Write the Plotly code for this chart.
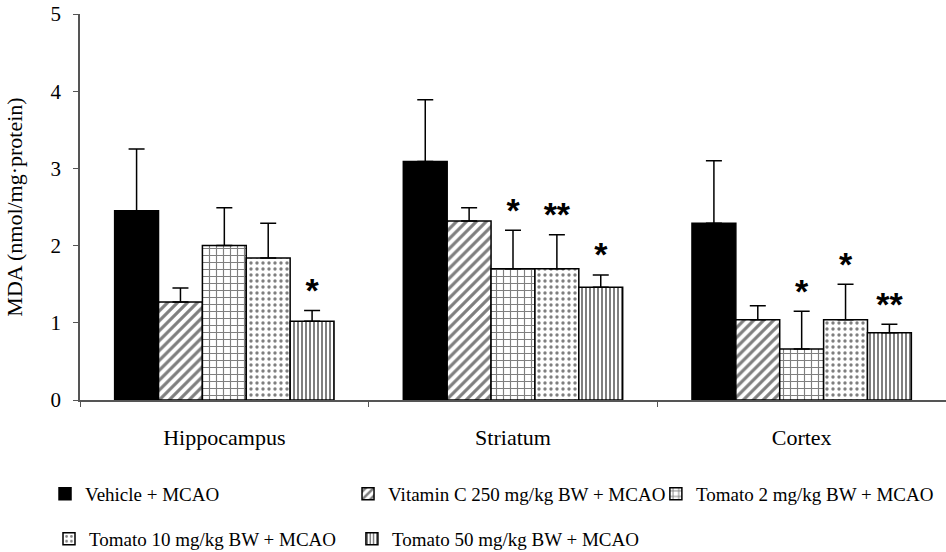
import plotly.graph_objects as go

# regions and treatment groups
regions = ["Hippocampus", "Striatum", "Cortex"]
groups = ["Vehicle + MCAO", "Vitamin C 250 mg/kg BW + MCAO", "Tomato 2 mg/kg BW + MCAO",
          "Tomato 10 mg/kg BW + MCAO", "Tomato 50 mg/kg BW + MCAO"]

# MDA mean values (nmol/mg protein) per group, ordered as regions
vehicle = [2.45, 3.09, 2.29]
vitc = [1.27, 2.32, 1.04]
tomato2 = [2.00, 1.70, 0.66]
tomato10 = [1.84, 1.70, 1.04]
tomato50 = [1.02, 1.46, 0.87]

# SD (upper error bar only)
vehicle_err = [0.80, 0.80, 0.81]
vitc_err = [0.18, 0.17, 0.18]
tomato2_err = [0.49, 0.50, 0.49]
tomato10_err = [0.45, 0.44, 0.46]
tomato50_err = [0.14, 0.16, 0.11]

# significance marks
vehicle_sig = ["", "", ""]
vitc_sig = ["", "", ""]
tomato2_sig = ["", "*", "*"]
tomato10_sig = ["", "**", "*"]
tomato50_sig = ["*", "*", "**"]

values = [vehicle, vitc, tomato2, tomato10, tomato50]
errors = [vehicle_err, vitc_err, tomato2_err, tomato10_err, tomato50_err]
sigs = [vehicle_sig, vitc_sig, tomato2_sig, tomato10_sig, tomato50_sig]

patterns = [
    dict(shape="", fgcolor="black", bgcolor="black"),
    dict(shape="/", size=7, solidity=0.45, fgcolor="black", bgcolor="white"),
    dict(shape="+", size=7, solidity=0.3, fgcolor="black", bgcolor="white"),
    dict(shape=".", size=6, solidity=0.25, fgcolor="black", bgcolor="white"),
    dict(shape="|", size=4, solidity=0.5, fgcolor="black", bgcolor="white"),
]

# legend placement (paper coords, anchor)
leg_pos = [(-0.0404, -0.243, "left"), (0.3095, -0.243, "left"), (0.665, -0.243, "left"),
           (-0.0358, -0.36, "left"), (0.314, -0.36, "left")]
leg_names = ["legend", "legend2", "legend3", "legend4", "legend5"]

serif = "Liberation Serif"
fig = go.Figure()

for i in range(5):
    fig.add_trace(go.Bar(
        x=regions, y=values[i], name=groups[i], offsetgroup=str(i),
        marker=dict(color="white" if i else "black", line=dict(color="black", width=1.5),
                    pattern=patterns[i]),
        error_y=dict(type="data", array=errors[i], arrayminus=[0, 0, 0], symmetric=False,
                     color="black", thickness=1.5, width=8),
        legend=leg_names[i],
    ))

# asterisks above the error bars
for i in range(5):
    fig.add_trace(go.Scatter(
        x=regions, y=[v + e for v, e in zip(values[i], errors[i])], text=sigs[i],
        mode="text", textposition="top center", offsetgroup=str(i), showlegend=False,
        textfont=dict(family="Liberation Sans", size=34, color="black", weight="bold"),
        hoverinfo="skip",
    ))

layout_legends = {}
for name, (lx, ly, anchor) in zip(leg_names, leg_pos):
    layout_legends[name] = dict(x=lx, y=ly, xanchor=anchor, yanchor="middle",
                                font=dict(family=serif, size=19, color="black"),
                                bgcolor="rgba(0,0,0,0)", itemwidth=30)

# figure a bit taller than the window so the bottom legend row does not push the margins
fig.update_layout(
    width=946, height=560,
    margin=dict(l=80, r=0, t=14, b=160),
    plot_bgcolor="white", paper_bgcolor="white",
    barmode="group", bargap=0.24, bargroupgap=0, scattermode="group",
    font=dict(family=serif, color="black"),
    **layout_legends,
)

fig.update_xaxes(
    type="category", tickson="boundaries", ticks="outside", ticklen=5, tickcolor="#555",
    showline=True, linecolor="#555", linewidth=1.5, showgrid=False, automargin=False,
    tickfont=dict(family=serif, size=22, color="black"), ticklabelstandoff=17,
)
fig.update_yaxes(
    range=[0, 5], dtick=1, ticks="outside", ticklen=5, tickcolor="#555",
    showline=True, linecolor="#555", linewidth=1.5, showgrid=False, zeroline=False,
    automargin=False, ticklabeloverflow="allow",
    tickfont=dict(family=serif, size=21, color="black"), ticklabelstandoff=8,
    title=dict(text="MDA (nmol/mg·protein)", font=dict(family=serif, size=22, color="black"), standoff=22),
)

# drop the default 8px page margin so the figure sits at the window corner
fig.write_html("out.html", config={"displayModeBar": False},
               post_script="document.body.style.margin='0';")
